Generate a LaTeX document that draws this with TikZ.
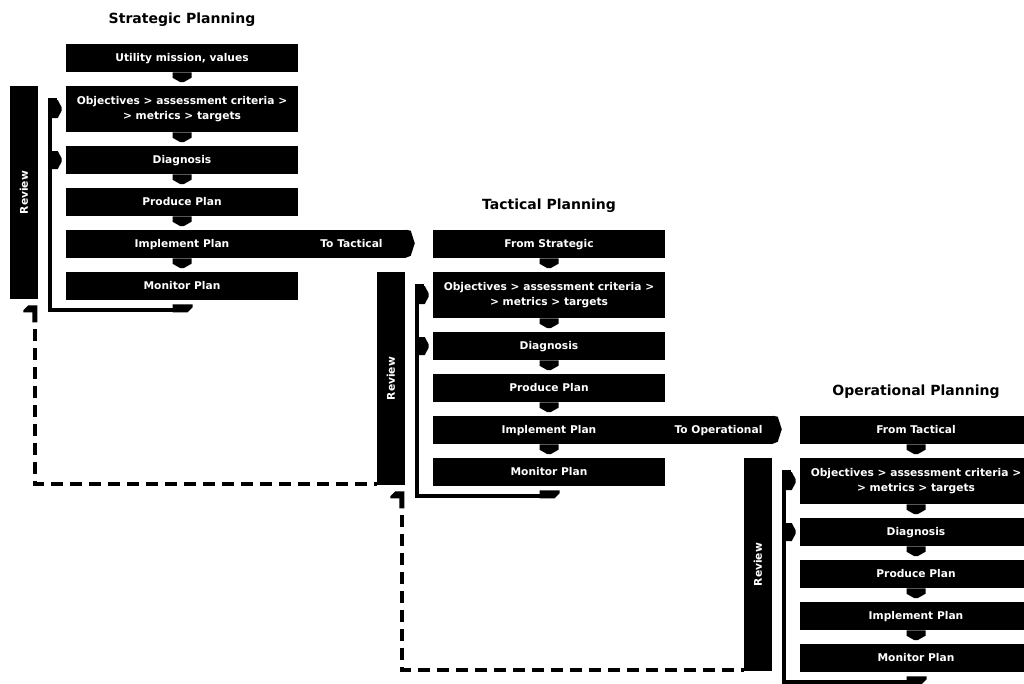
\documentclass[tikz,border=0pt]{standalone}
\usepackage{fontspec}
\setmainfont{DejaVu Sans}
\usepackage{graphicx}
\usetikzlibrary{calc}

\tikzset{
  boxbase/.style={fill=black, text=white, inner sep=0pt,
    minimum width=174pt, align=center,
    font=\bfseries\fontsize{8}{11.25}\selectfont},
  stepbox/.style={boxbase, minimum height=21pt, text height=5.8pt, text depth=0pt},
  tallbox/.style={boxbase, minimum height=34.5pt},
  sidebox/.style={stepbox, minimum width=81pt},
  reviewbar/.style={fill=black, text=white, inner sep=0pt,
    minimum width=21pt, minimum height=159.75pt,
    font=\bfseries\fontsize{8}{10}\selectfont},
  heading/.style={anchor=base, font=\bfseries\fontsize{10.5}{12}\selectfont},
  % chunky downward tab joining two consecutive steps
  downtab/.style={fill=black, to path={
    ($(\tikztostart)+(-9.5,0)$) -- ($(\tikztostart)+(9.5,0)$)
    -- ($(\tikztotarget)+(9.5,-8)$) -- ($(\tikztotarget)+(1.5,-3.5)$)
    -- ($(\tikztotarget)+(-1.5,-3.5)$) -- ($(\tikztotarget)+(-9.5,-8)$) -- cycle}},
  railline/.style={line width=3pt},
  returnline/.style={line width=3.4pt, dash pattern=on 9pt off 5.25pt, dash phase=9pt},
}

% one planning level: #1 prefix, #2 heading, #3 first step, #4/#5 shift
\newcommand\planningcolumn[5]{%
\begin{scope}[shift={(#4,#5)}]
  \node[heading] (#1-head) at (182,23) {#2};
  \node[stepbox] (#1-top)  at (182,58)  {#3};
  \node[tallbox] (#1-obj)  at (182,109) {Objectives > assessment criteria >\\> metrics > targets};
  \node[stepbox] (#1-diag) at (182,160) {Diagnosis};
  \node[stepbox] (#1-prod) at (182,202) {Produce Plan};
  \node[stepbox] (#1-impl) at (182,244) {Implement Plan};
  \node[stepbox] (#1-mon)  at (182,286) {Monitor Plan};
  \node[reviewbar] (#1-rev) at (24,192.5) {\rotatebox{90}{Review}};
  \path[downtab] (#1-top.south)  to (#1-obj.north);
  \path[downtab] (#1-obj.south)  to (#1-diag.north);
  \path[downtab] (#1-diag.south) to (#1-prod.north);
  \path[downtab] (#1-prod.south) to (#1-impl.north);
  \path[downtab] (#1-impl.south) to (#1-mon.north);
  % rail from monitoring back to objectives and diagnosis
  \fill ($(#1-mon.south)+(-9.5,4)$) -- ++(20,0) -- ++(0,3) -- ++(-5,5) -- ++(-15,0) -- cycle;
  \draw[railline] ($(#1-mon.south)+(-9.5,10)$) -| ($(#1-obj.west)+(-16,-9)$) -- ($(#1-obj.west)+(-9,-9)$);
  \fill ($(#1-obj.west)+(-14,-9)$) -- ++(6,0) -- ++(4,7.5) -- ++(0,3) -- ++(-4,7.5) -- ++(-6,0) -- cycle;
  \fill ($(#1-diag.west)+(-14,-9)$) -- ++(6,0) -- ++(4,7.5) -- ++(0,3) -- ++(-4,7.5) -- ++(-6,0) -- cycle;
\end{scope}}

\begin{document}
\begin{tikzpicture}[x=0.75pt, y=-0.75pt]
  \path[use as bounding box, fill=white] (0,0) rectangle (1024,683);
  \clip (0,0) rectangle (1024,683);

  \planningcolumn{s}{Strategic Planning}{Utility mission, values}{0}{0}
  \planningcolumn{t}{Tactical Planning}{From Strategic}{367}{186}
  \planningcolumn{o}{Operational Planning}{From Tactical}{734}{372}

  % hand-over arrows to the next level
  \node[sidebox] (s-next) at (351.5,244) {To Tactical};
  \fill (s-next.north east) -- ++(5,1) -- ++(4,12.5) -- ++(-4,12.5) -- ++(-5,2) -- cycle;
  \node[sidebox] (t-next) at (718.5,430) {To Operational};
  \fill (t-next.north east) -- ++(5,1) -- ++(4,12.5) -- ++(-4,12.5) -- ++(-5,2) -- cycle;

  % dashed returns from each review to the level above
  \fill ($(s-rev.south east)+(-10,6)$) -- ++(9,0) -- ++(0,17) -- ++(-5,0) -- ++(0,-10) -- ++(-9,0) -- ++(0,-2) -- cycle;
  \draw[returnline] ($(s-rev.south east)+(-3.5,23)$) |- ($(t-rev.south west)+(0,-1.5)$);
  \fill ($(t-rev.south east)+(-10,6)$) -- ++(9,0) -- ++(0,17) -- ++(-5,0) -- ++(0,-10) -- ++(-9,0) -- ++(0,-2) -- cycle;
  \draw[returnline] ($(t-rev.south east)+(-3.5,23)$) |- ($(o-rev.south west)+(0,-1.5)$);
\end{tikzpicture}
\end{document}
